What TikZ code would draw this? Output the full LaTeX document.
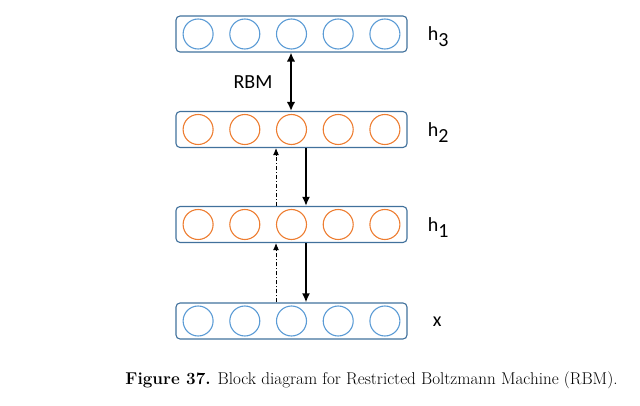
\documentclass[tikz,border=0pt]{standalone}
\usepackage{fontspec}
\setsansfont{Carlito}
\usetikzlibrary{positioning,arrows.meta}

\definecolor{layerblue}{RGB}{65,113,156}
\definecolor{unitblue}{RGB}{91,155,213}
\definecolor{unitorange}{RGB}{237,125,49}

\tikzset{
  layer/.style={draw=layerblue, line width=1.1pt, rounded corners=4pt,
    minimum width=231pt, minimum height=36pt},
  unit/.style={circle, draw=#1, line width=1.1pt, minimum size=30pt, inner sep=0pt},
  layername/.style={font=\sffamily\fontsize{20}{22}\selectfont, inner sep=0pt},
  solidarrow/.style={line width=1.8pt, arrows={-Latex[length=9pt,width=8pt]}},
  botharrow/.style={line width=2pt, arrows={Latex[length=9pt,width=8.5pt]-Latex[length=9pt,width=8.5pt]}},
  dasharrow/.style={line width=0.9pt, dash pattern=on 4pt off 2pt on 1pt off 2pt,
    arrows={-Latex[length=7pt,width=6pt]}}
}

\begin{document}
\begin{tikzpicture}[x=1pt,y=1pt]
    \useasboundingbox (0,0) rectangle (640,405);

    % Draw the four layers
    \node[layer] (L3) at (291.5,371) {};
    \node[layer] (L2) at (291.5,275.5) {};
    \node[layer] (L1) at (291.5,180.5) {};
    \node[layer] (L0) at (291.5,84) {};

    % Units in each layer
    \foreach \i in {1,...,5} {
      \node[unit=unitblue]   (L3-\i) at ([xshift={(\i-3)*46.7pt}]L3.center) {};
      \node[unit=unitorange] (L2-\i) at ([xshift={(\i-3)*46.7pt}]L2.center) {};
      \node[unit=unitorange] (L1-\i) at ([xshift={(\i-3)*46.7pt}]L1.center) {};
      \node[unit=unitblue]   (L0-\i) at ([xshift={(\i-3)*46.7pt}]L0.center) {};
    }

    % Label the layers
    \node[layername, anchor=west, right=20pt of L3, yshift=-3pt] (h3) {h$_{\textsf{3}}$};
    \node[layername, anchor=west, right=20pt of L2, yshift=-3pt] (h2) {h$_{\textsf{2}}$};
    \node[layername, anchor=west, right=20pt of L1, yshift=-3pt] (h1) {h$_{\textsf{1}}$};
    \node[layername, anchor=west, right=25pt of L0, yshift=-1pt] (x) {x};

    % RBM between the two top layers
    \node[layername] (rbm) at (253,323) {RBM};
    \draw[botharrow] ([xshift=-0.5pt]L3.south) -- ([xshift=-0.5pt]L2.north);

    % Downward (solid) and upward (dash-dot) passes
    \draw[solidarrow] ([xshift=14.5pt]L2.south) -- ([xshift=14.5pt]L1.north);
    \draw[solidarrow] ([xshift=14.5pt]L1.south) -- ([xshift=14.5pt]L0.north);
    \draw[dasharrow] ([xshift=-15.5pt]L1.north) -- ([xshift=-15.5pt]L2.south);
    \draw[dasharrow] ([xshift=-15.5pt]L0.north) -- ([xshift=-15.5pt]L1.south);

    % Caption
    \node[font=\fontsize{17.1}{19}\selectfont] (caption) at (371.5,25)
      {\textbf{Figure 37.} Block diagram for Restricted Boltzmann Machine (RBM).};
\end{tikzpicture}
\end{document}
